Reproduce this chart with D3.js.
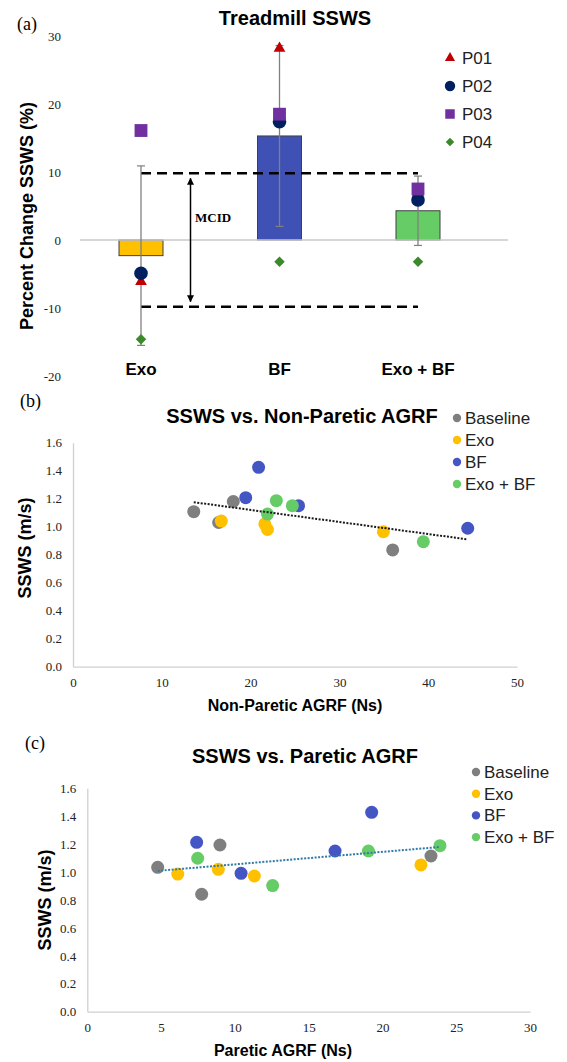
<!DOCTYPE html>
<html>
<head>
<meta charset="utf-8">
<script src="https://cdn.jsdelivr.net/npm/d3@7"></script>
<style>
body { margin: 0; background: #fff; }
</style>
</head>
<body>
<svg width="567" height="1062"></svg>
<script>
// ---- panel (a): treadmill SSWS percent change ----
var groups = ['Exo', 'BF', 'Exo + BF'];
var meanChange = [-2.3, 15.3, 4.3];
var sdChange = [13.2, 13.3, 5.1];
var barColors = ['#ffc000', '#3f51b5', '#66cc66'];
var participants = ['P01', 'P02', 'P03', 'P04'];
var p01 = [-6.1, 28.2, 7.0];
var p02 = [-4.9, 17.4, 5.9];
var p03 = [16.1, 18.5, 7.5];
var p04 = [-14.6, -3.2, -3.2];
var yTicksA = [-20, -10, 0, 10, 20, 30];
var mcid = 9.8;

// ---- panels (b), (c): SSWS vs AGRF ----
var conditions = ['Baseline', 'Exo', 'BF', 'Exo + BF'];
var condColors = ['#7f7f7f', '#ffc000', '#4455c4', '#66cc66'];

var npBaselineX = [13.6, 16.4, 18.05, 36.0];
var npBaselineY = [1.107, 1.03, 1.18, 0.834];
var npExoX = [16.7, 21.6, 21.9, 34.95];
var npExoY = [1.04, 1.02, 0.98, 0.964];
var npBfX = [19.45, 20.9, 25.4, 44.45];
var npBfY = [1.207, 1.424, 1.15, 0.989];
var npExoBfX = [21.9, 22.9, 24.7, 39.45];
var npExoBfY = [1.09, 1.186, 1.15, 0.893];

var pBaselineX = [4.77, 7.75, 8.99, 23.29];
var pBaselineY = [1.034, 0.841, 1.194, 1.115];
var pExoX = [6.13, 8.88, 11.32, 22.61];
var pExoY = [0.986, 1.02, 0.972, 1.051];
var pBfX = [7.41, 10.42, 16.79, 19.27];
var pBfY = [1.213, 0.991, 1.151, 1.428];
var pExoBfX = [7.48, 12.56, 19.05, 23.9];
var pExoBfY = [1.099, 0.903, 1.151, 1.189];

var ssTicks = [0, 0.2, 0.4, 0.6, 0.8, 1.0, 1.2, 1.4, 1.6];
var npTicks = [0, 10, 20, 30, 40, 50];
var pTicks = [0, 5, 10, 15, 20, 25, 30];

var sans = '"Liberation Sans", Arial, sans-serif';
var serif = '"Liberation Serif", "Times New Roman", serif';

var svg = d3.select('svg');

// ================= panel (a) =================
var ya = d3.scaleLinear().domain([-20, 30]).range([376, 36]);
var xa = d3.scalePoint().domain(groups).range([141, 418]);
var barW = 44;

svg.append('text').attr('x', 17).attr('y', 30).attr('font-family', serif).attr('font-size', 18).text('(a)');
svg.append('text').attr('x', 295).attr('y', 25).attr('text-anchor', 'middle')
    .attr('font-family', sans).attr('font-weight', 'bold').attr('font-size', 20).text('Treadmill SSWS');

var axA = svg.append('g').attr('transform', 'translate(61,0)')
    .call(d3.axisLeft(ya).tickValues(yTicksA).tickFormat(String).tickSize(0).tickPadding(0));
axA.select('.domain').remove();
axA.selectAll('text').attr('font-family', serif).attr('font-size', 13).attr('fill', '#222');

svg.append('text').attr('transform', 'translate(33,216) rotate(-90)').attr('text-anchor', 'middle')
    .attr('font-family', sans).attr('font-weight', 'bold').attr('font-size', 18).text('Percent Change SSWS (%)');

// bars
svg.selectAll('rect.bar').data(groups).enter().append('rect').attr('class', 'bar')
    .attr('x', function(d) { return xa(d) - barW / 2; })
    .attr('y', function(d, i) { return ya(Math.max(0, meanChange[i])); })
    .attr('width', barW)
    .attr('height', function(d, i) { return Math.abs(ya(meanChange[i]) - ya(0)); })
    .attr('fill', function(d, i) { return barColors[i]; })
    .attr('stroke', '#404040').attr('stroke-width', 1);

// zero line
svg.append('line').attr('x1', 80).attr('x2', 508).attr('y1', ya(0)).attr('y2', ya(0))
    .attr('stroke', '#c8c8c8').attr('stroke-width', 1.3);

// MCID dashed lines
[mcid, -mcid].forEach(function(v) {
    svg.append('line').attr('x1', xa(groups[0])).attr('x2', xa(groups[2]))
        .attr('y1', ya(v)).attr('y2', ya(v))
        .attr('stroke', '#000').attr('stroke-width', 2.5).attr('stroke-dasharray', '10,6');
});

// error bars
groups.forEach(function(g, i) {
    var cx = xa(g);
    var hi = ya(meanChange[i] + sdChange[i]), lo = ya(meanChange[i] - sdChange[i]);
    svg.append('line').attr('x1', cx).attr('x2', cx).attr('y1', hi).attr('y2', lo)
        .attr('stroke', '#808080').attr('stroke-width', 1.3);
    [hi, lo].forEach(function(y) {
        svg.append('line').attr('x1', cx - 4).attr('x2', cx + 4).attr('y1', y).attr('y2', y)
            .attr('stroke', '#808080').attr('stroke-width', 1.2);
    });
});

// MCID arrow
var defs = svg.append('defs');
defs.append('marker').attr('id', 'arr').attr('viewBox', '0 0 10 10').attr('refX', 9).attr('refY', 5)
    .attr('markerWidth', 7).attr('markerHeight', 7).attr('markerUnits', 'userSpaceOnUse')
    .attr('orient', 'auto-start-reverse')
    .append('path').attr('d', 'M0,0 L10,5 L0,10 z').attr('fill', '#000');
svg.append('line').attr('x1', 190.5).attr('x2', 190.5).attr('y1', ya(mcid) + 5).attr('y2', ya(-mcid) - 5)
    .attr('stroke', '#000').attr('stroke-width', 1.5)
    .attr('marker-start', 'url(#arr)').attr('marker-end', 'url(#arr)');
svg.append('text').attr('x', 195).attr('y', 222).attr('font-family', serif).attr('font-weight', 'bold')
    .attr('font-size', 13).text('MCID');

// participant markers
var pSeries = [p01, p02, p03, p04];
var pColors = ['#c00000', '#002060', '#7030a0', '#3a8a2b'];
var pShapes = [
    d3.symbol().type(d3.symbolTriangle).size(60),
    d3.symbol().type(d3.symbolCircle).size(145),
    d3.symbol().type(d3.symbolSquare).size(165),
    d3.symbol().type(d3.symbolSquare).size(55)
];
var pLegShapes = [
    d3.symbol().type(d3.symbolTriangle).size(45),
    d3.symbol().type(d3.symbolCircle).size(85),
    d3.symbol().type(d3.symbolSquare).size(90),
    d3.symbol().type(d3.symbolSquare).size(36)
];
pSeries.forEach(function(vals, k) {
    svg.selectAll('path.p' + k).data(vals).enter().append('path').attr('class', 'p' + k)
        .attr('d', pShapes[k])
        .attr('transform', function(d, i) {
            return 'translate(' + xa(groups[i]) + ',' + ya(d) + ')' + (k === 3 ? ' rotate(45)' : '');
        })
        .attr('fill', pColors[k]);
});

// category labels
groups.forEach(function(g) {
    svg.append('text').attr('x', xa(g)).attr('y', 375).attr('text-anchor', 'middle')
        .attr('font-family', sans).attr('font-weight', 'bold').attr('font-size', 17).text(g);
});

// legend (a)
participants.forEach(function(p, k) {
    var y = 58 + k * 28;
    svg.append('path').attr('d', pLegShapes[k])
        .attr('transform', 'translate(450,' + y + ')' + (k === 3 ? ' rotate(45)' : ''))
        .attr('fill', pColors[k]);
    svg.append('text').attr('x', 462).attr('y', y + 6).attr('font-family', sans)
        .attr('font-size', 17).attr('fill', '#222').text(p);
});

// ================= scatter panels =================
function scatter(o) {
    var x = d3.scaleLinear().domain(o.xDomain).range(o.xRange);
    var y = d3.scaleLinear().domain([0, 1.6]).range(o.yRange);

    svg.append('text').attr('x', o.tagX).attr('y', o.tagY).attr('font-family', serif)
        .attr('font-size', 18).text(o.tag);
    svg.append('text').attr('x', o.titleX).attr('y', o.titleY).attr('text-anchor', 'middle')
        .attr('font-family', sans).attr('font-weight', 'bold').attr('font-size', 20).text(o.title);

    var gx = svg.append('g').attr('transform', 'translate(0,' + o.yRange[0] + ')')
        .call(d3.axisBottom(x).tickValues(o.xTicks).tickSize(0).tickPadding(11));
    gx.select('.domain').attr('stroke', '#d0d0d0').attr('stroke-width', 1.3);
    gx.selectAll('text').attr('font-family', serif).attr('font-size', 13).attr('fill', '#222');

    var gy = svg.append('g').attr('transform', 'translate(' + o.xRange[0] + ',0)')
        .call(d3.axisLeft(y).tickValues(ssTicks).tickFormat(d3.format('.1f')).tickSize(0).tickPadding(o.yPad));
    gy.select('.domain').attr('stroke', '#d0d0d0').attr('stroke-width', 1.3);
    gy.selectAll('text').attr('font-family', serif).attr('font-size', 13).attr('fill', '#222');

    svg.append('text').attr('x', o.xTitleX).attr('y', o.xTitleY).attr('text-anchor', 'middle')
        .attr('font-family', sans).attr('font-weight', 'bold').attr('font-size', 16).text(o.xTitle);
    svg.append('text').attr('transform', 'translate(' + o.yTitleX + ',' + o.yTitleY + ') rotate(-90)')
        .attr('text-anchor', 'middle').attr('font-family', sans).attr('font-weight', 'bold')
        .attr('font-size', 18).text('SSWS (m/s)');

    var all = [];
    o.xs.forEach(function(xs, s) {
        var pts = xs.map(function(v, i) { return [v, o.ys[s][i]]; });
        all = all.concat(pts);
        svg.append('g').selectAll('circle').data(pts).enter().append('circle')
            .attr('cx', function(d) { return x(d[0]); })
            .attr('cy', function(d) { return y(d[1]); })
            .attr('r', 6.5).attr('fill', condColors[s]);
    });

    // linear trend over all points
    var mx = d3.mean(all, function(d) { return d[0]; });
    var my = d3.mean(all, function(d) { return d[1]; });
    var sxy = d3.sum(all, function(d) { return (d[0] - mx) * (d[1] - my); });
    var sxx = d3.sum(all, function(d) { return (d[0] - mx) * (d[0] - mx); });
    var b = sxy / sxx, a = my - b * mx;
    var ext = d3.extent(all, function(d) { return d[0]; });
    svg.append('line').attr('x1', x(ext[0])).attr('x2', x(ext[1]))
        .attr('y1', y(a + b * ext[0])).attr('y2', y(a + b * ext[1]))
        .attr('stroke', o.trendColor).attr('stroke-width', 2).attr('stroke-dasharray', '2,1.5');

    conditions.forEach(function(c, s) {
        var ly = o.legY + s * o.legStep;
        svg.append('circle').attr('cx', o.legX).attr('cy', ly).attr('r', 4.2).attr('fill', condColors[s]);
        svg.append('text').attr('x', o.legX + 8).attr('y', ly + 6).attr('font-family', sans)
            .attr('font-size', 17).attr('fill', '#222').text(c);
    });
}

scatter({
    tag: '(b)', tagX: 20, tagY: 407,
    title: 'SSWS vs. Non-Paretic AGRF', titleX: 302, titleY: 423,
    xDomain: [0, 50], xRange: [73, 517], yRange: [666.7, 442.7], xTicks: npTicks, yPad: 11,
    xTitle: 'Non-Paretic AGRF (Ns)', xTitleX: 295, xTitleY: 711,
    yTitleX: 31, yTitleY: 548,
    xs: [npBaselineX, npExoX, npBfX, npExoBfX],
    ys: [npBaselineY, npExoY, npBfY, npExoBfY],
    trendColor: '#1a1a1a',
    legX: 457, legY: 418, legStep: 22
});

scatter({
    tag: '(c)', tagX: 25, tagY: 749,
    title: 'SSWS vs. Paretic AGRF', titleX: 305, titleY: 763,
    xDomain: [0, 30], xRange: [87.3, 530], yRange: [1011.7, 788.3], xTicks: pTicks, yPad: 11,
    xTitle: 'Paretic AGRF (Ns)', xTitleX: 283, xTitleY: 1056,
    yTitleX: 51, yTitleY: 900,
    xs: [pBaselineX, pExoX, pBfX, pExoBfX],
    ys: [pBaselineY, pExoY, pBfY, pExoBfY],
    trendColor: '#2f7ba8',
    legX: 476, legY: 772, legStep: 21.7
});
</script>
</body>
</html>
